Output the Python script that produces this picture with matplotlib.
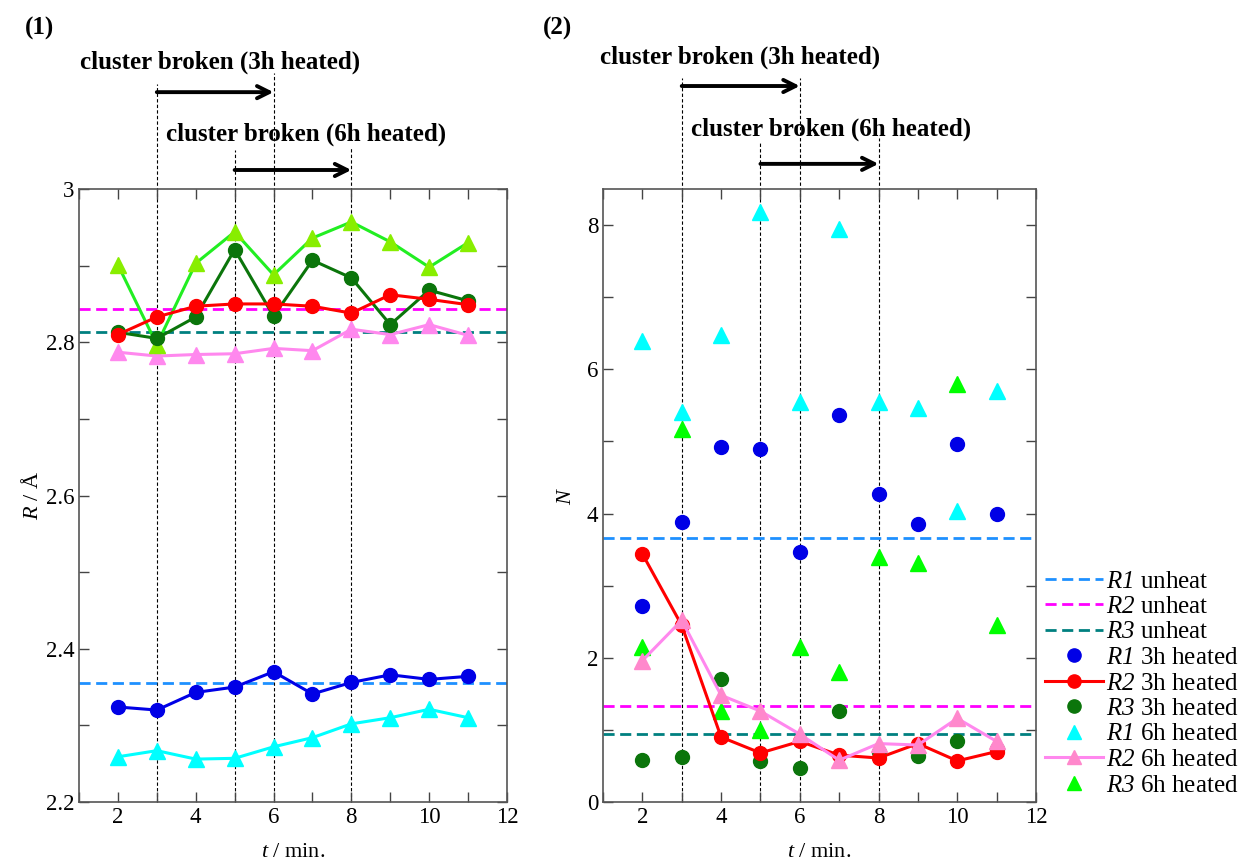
import matplotlib
matplotlib.use("Agg")
import matplotlib.pyplot as plt
from matplotlib.ticker import MultipleLocator, FuncFormatter
import matplotlib.transforms as mtransforms

plt.rcParams['font.family'] = ['Liberation Serif', 'DejaVu Serif']
plt.rcParams['mathtext.fontset'] = 'custom'
# digits inside math fall back to 'rm', so make both italic (R1, R2 ... are italic)
plt.rcParams['mathtext.rm'] = 'Liberation Serif:italic'
plt.rcParams['mathtext.it'] = 'Liberation Serif:italic'
plt.rcParams['mathtext.bf'] = 'Liberation Serif:bold'

# time axis (min.)
t = [2, 3, 4, 5, 6, 7, 8, 9, 10, 11]

# (1) bond length R / Angstrom
R_unheat = [2.355, 2.844, 2.813]
R1_3h = [2.324, 2.320, 2.343, 2.350, 2.370, 2.341, 2.356, 2.366, 2.360, 2.364]
R2_3h = [2.810, 2.833, 2.847, 2.850, 2.850, 2.847, 2.838, 2.862, 2.856, 2.849]
R3_3h = [2.813, 2.805, 2.833, 2.921, 2.834, 2.907, 2.884, 2.823, 2.868, 2.854]
R1_6h = [2.259, 2.267, 2.256, 2.257, 2.272, 2.284, 2.302, 2.310, 2.321, 2.310]
R2_6h = [2.787, 2.782, 2.784, 2.785, 2.792, 2.789, 2.817, 2.810, 2.823, 2.809]
R3_6h = [2.901, 2.797, 2.903, 2.944, 2.888, 2.936, 2.957, 2.931, 2.898, 2.930]

# (2) coordination number N
N_unheat = [3.655, 1.33, 0.94]
N1_3h = [2.72, 3.88, 4.92, 4.90, 3.47, 5.37, 4.27, 3.86, 4.97, 4.00]
N2_3h = [3.44, 2.45, 0.90, 0.68, 0.84, 0.65, 0.61, 0.81, 0.57, 0.70]
N3_3h = [0.58, 0.63, 1.70, 0.57, 0.47, 1.26, 0.69, 0.64, 0.84, 0.74]
N1_6h = [6.39, 5.41, 6.48, 8.18, 5.54, 7.95, 5.54, 5.47, 4.03, 5.70]
N2_6h = [1.96, 2.52, 1.48, 1.26, 0.94, 0.58, 0.81, 0.79, 1.16, 0.84]
N3_6h = [2.15, 5.17, 1.26, 1.00, 2.15, 1.80, 3.40, 3.32, 5.80, 2.46]

# cluster broken ranges: (start, end)
broken_3h = (3, 6)
broken_6h = (5, 8)

c_unheat = ['#1e90ff', '#ff00ff', '#008080']
c_3h = ['#0000e6', '#ff0000', '#0b750b']
c_6h = ['#00ffff', '#ff88e6', '#00ff00']

W, H = 1249, 864
fig = plt.figure(figsize=(W / 100, H / 100), dpi=100)
ax1 = fig.add_axes([79 / W, 1 - 802 / H, 428 / W, 613 / H])
ax2 = fig.add_axes([603 / W, 1 - 802 / H, 433 / W, 613 / H])

dash = (0, (4, 2))
ms_c = 10
ms_t = 11

# ---- panel (1)
for y, c in zip(R_unheat, c_unheat):
	ax1.axhline(y, color=c, lw=2, ls=dash, zorder=2)
ax1.plot(t, R1_3h, '-o', color=c_3h[0], lw=2.2, ms=ms_c, zorder=3)
ax1.plot(t, R1_6h, '-^', color=c_6h[0], lw=2.2, ms=ms_t, zorder=3)
ax1.plot(t, R2_6h, '-^', color='#ff88ee', lw=2.2, ms=ms_t, zorder=3)
ax1.plot(t, R3_6h, '-^', color='#22ee22', mfc='#88ee00', mec='#88ee00', lw=2.2, ms=ms_t, zorder=3)
ax1.plot(t, R3_3h, '-o', color=c_3h[2], lw=2.2, ms=ms_c, zorder=4)
ax1.plot(t, R2_3h, '-o', color=c_3h[1], lw=2.2, ms=ms_c, zorder=4)
ax1.set_xlim(1, 12)
ax1.set_ylim(2.2, 3.0)
ax1.yaxis.set_major_locator(MultipleLocator(0.2))
ax1.yaxis.set_minor_locator(MultipleLocator(0.1))
ax1.yaxis.set_major_formatter(FuncFormatter(lambda v, p: '%g' % round(v, 2)))
ax1.set_ylabel(r'$R$ / Å', fontsize=16, labelpad=2)

# ---- panel (2)
for y, c in zip(N_unheat, c_unheat):
	ax2.axhline(y, color=c, lw=2, ls=dash, zorder=2)
ax2.plot(t, N1_3h, 'o', color=c_3h[0], ms=ms_c, zorder=3)
ax2.plot(t, N2_3h, '-o', color=c_3h[1], lw=2.2, ms=ms_c, zorder=4)
ax2.plot(t, N3_3h, 'o', color=c_3h[2], ms=ms_c, zorder=3)
ax2.plot(t, N1_6h, '^', color=c_6h[0], ms=ms_t, zorder=3)
ax2.plot(t, N2_6h, '-^', color='#ff88ee', mfc='#ff88cc', mec='#ff88cc', lw=2.2, ms=ms_t, zorder=4)
ax2.plot(t, N3_6h, '^', color=c_6h[2], ms=ms_t, zorder=3)
ax2.set_xlim(1, 12)
ax2.set_ylim(0, 8.5)
ax2.yaxis.set_major_locator(MultipleLocator(2))
ax2.yaxis.set_minor_locator(MultipleLocator(1))
ax2.set_ylabel(r'$N$', fontsize=16, labelpad=8)

for ax in (ax1, ax2):
	ax.xaxis.set_major_locator(MultipleLocator(2))
	ax.xaxis.set_minor_locator(MultipleLocator(1))
	ax.tick_params(which='both', direction='in', top=True, right=True,
				   labelsize=16.5, color='#444444', width=1, length=7)
	for s in ax.spines.values():
		s.set_color('#555555')
		s.set_linewidth(1.2)
	ax.set_xlabel(r'$t$ / min.', fontsize=16, labelpad=11)

# vertical markers and arrows (x in data, y in axes fraction)
vtops = {
	ax1: {3: 1.172, 6: 1.189, 5: 1.064, 8: 1.067},
	ax2: {3: 1.181, 6: 1.181, 5: 1.075, 8: 1.083},
}
arr_y = {ax1: (1.158, 1.031), ax2: (1.168, 1.041)}
for ax in (ax1, ax2):
	tr = mtransforms.blended_transform_factory(ax.transData, ax.transAxes)
	for x, top in vtops[ax].items():
		ax.plot([x, x], [0, top], transform=tr, color='black', lw=0.8,
				ls=(0, (3, 2)), clip_on=False, zorder=1)
	for (a, b), yy in zip((broken_3h, broken_6h), arr_y[ax]):
		ax.annotate('', xy=(b, yy), xytext=(a, yy), xycoords=tr, textcoords=tr,
					arrowprops=dict(arrowstyle='->', lw=2.8, color='black',
									mutation_scale=22, shrinkA=0, shrinkB=0))

txt = dict(fontsize=18, fontweight='bold', va='center', ha='left')
fig.text(80 / W, 1 - 62 / H, 'cluster broken (3h heated)', **txt)
fig.text(166 / W, 1 - 134 / H, 'cluster broken (6h heated)', **txt)
fig.text(600 / W, 1 - 57 / H, 'cluster broken (3h heated)', **txt)
fig.text(691 / W, 1 - 129 / H, 'cluster broken (6h heated)', **txt)
fig.text(25 / W, 1 - 28 / H, '(1)', fontsize=18, fontweight='bold', va='center')
fig.text(543 / W, 1 - 28 / H, '(2)', fontsize=18, fontweight='bold', va='center')

labels = [r'$R1$ unheat', r'$R2$ unheat', r'$R3$ unheat',
		  r'$R1$ 3h heated', r'$R2$ 3h heated', r'$R3$ 3h heated',
		  r'$R1$ 6h heated', r'$R2$ 6h heated', r'$R3$ 6h heated']
handles = ax2.get_lines()[:9]
fig.legend(handles, labels, loc='upper left', bbox_to_anchor=(1045 / W, 1 - 570 / H),
		   frameon=False, fontsize=18, handlelength=2.3, handletextpad=0.15,
		   labelspacing=0.12, borderpad=0, borderaxespad=0, markerscale=0.95)

fig.savefig('out.png', dpi=100)
